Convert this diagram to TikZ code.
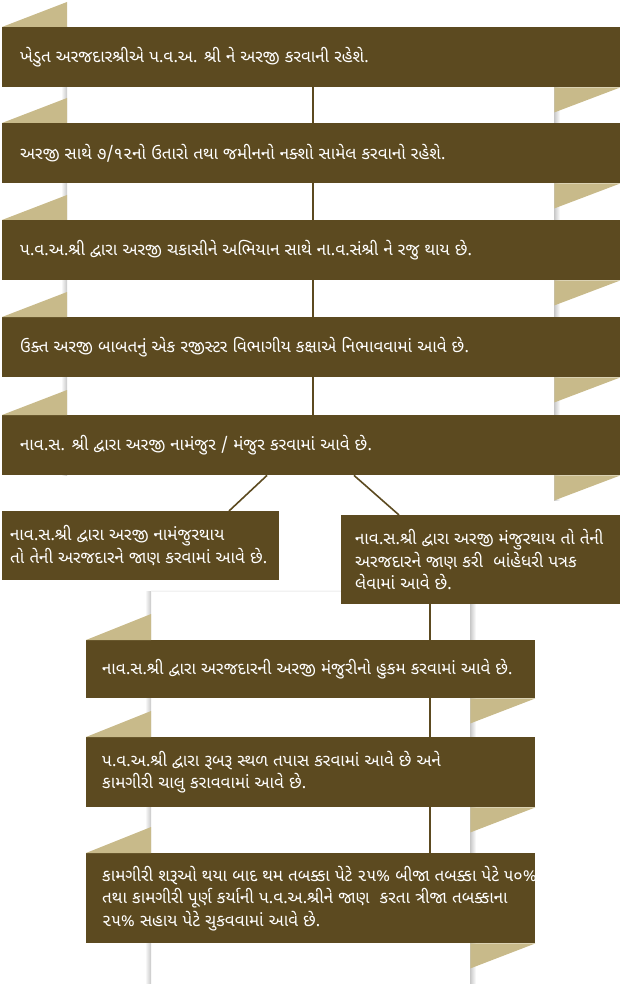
\documentclass[tikz,border=0pt]{standalone}
\usepackage{fontspec}
\newfontfamily\gujfont[Script=Gujarati]{Noto Sans Gujarati UI}
\usepackage{tikz}
\definecolor{ribbonbrown}{RGB}{92,74,32}
\definecolor{ribbontan}{RGB}{200,186,138}

\begin{document}
\begin{tikzpicture}[x=1pt, y=-1pt,
    box/.style={fill=ribbonbrown, anchor=north west, inner sep=0pt},
    txt/.style={text=white, font=\gujfont\fontsize{17}{22.5}\selectfont, align=left, anchor=west, inner sep=0pt},
    link/.style={draw=ribbonbrown, line width=1.6pt},
    fold/.style={fill=ribbontan}]
    \useasboundingbox (0,0) rectangle (620,984);
    % shadows along the edges of the two white strips
    \shade[left color=white, right color=black!22] (61,27) rectangle (67,475);
    \shade[left color=black!22, right color=white] (554,87) rectangle (560,500);
    \shade[left color=white, right color=black!22] (145,591) rectangle (151,984);
    \shade[left color=black!22, right color=white] (470,591) rectangle (476,984);
    \shade[top color=white, bottom color=black!5] (151,589) rectangle (470,591);
    % upper steps
    \node[box, minimum width=618pt, minimum height=60pt] (b1) at (2,27) {};
    \node[box, minimum width=618pt, minimum height=60pt] (b2) at (2,123) {};
    \node[box, minimum width=618pt, minimum height=60pt] (b3) at (2,220) {};
    \node[box, minimum width=618pt, minimum height=60pt] (b4) at (2,317) {};
    \node[box, minimum width=618pt, minimum height=60pt] (b5) at (2,415) {};
    % the two outcomes
    \node[box, minimum width=277pt, minimum height=69pt] (b6) at (2,511) {};
    \node[box, minimum width=279pt, minimum height=89pt] (b7) at (341,515) {};
    % lower steps
    \node[box, minimum width=449pt, minimum height=58pt] (b8) at (86,640) {};
    \node[box, minimum width=449pt, minimum height=70pt] (b9) at (86,737) {};
    \node[box, minimum width=449pt, minimum height=90pt] (b10) at (86,853) {};
    % folded corners
    \fill[fold] (b1.north west) -- ++(65,-25) -- ++(0,25) -- cycle;
    \fill[fold] (b2.north west) -- ++(65,-25) -- ++(0,25) -- cycle;
    \fill[fold] (b3.north west) -- ++(65,-25) -- ++(0,25) -- cycle;
    \fill[fold] (b4.north west) -- ++(65,-25) -- ++(0,25) -- cycle;
    \fill[fold] (b5.north west) -- ++(65,-25) -- ++(0,25) -- cycle;
    \fill[fold] (b1.south east) -- ++(-66,0) -- ++(0,25) -- cycle;
    \fill[fold] (b2.south east) -- ++(-66,0) -- ++(0,25) -- cycle;
    \fill[fold] (b3.south east) -- ++(-66,0) -- ++(0,25) -- cycle;
    \fill[fold] (b4.south east) -- ++(-66,0) -- ++(0,25) -- cycle;
    \fill[fold] (b5.south east) -- ++(-66,0) -- ++(0,25) -- cycle;
    \fill[fold] (b8.north west) -- ++(65,-26) -- ++(0,26) -- cycle;
    \fill[fold] (b9.north west) -- ++(65,-26) -- ++(0,26) -- cycle;
    \fill[fold] (b10.north west) -- ++(65,-26) -- ++(0,26) -- cycle;
    \fill[fold] (b8.south east) -- ++(-65,0) -- ++(0,25) -- cycle;
    \fill[fold] (b9.south east) -- ++(-65,0) -- ++(0,25) -- cycle;
    \fill[fold] (b10.south east) -- ++(-65,0) -- ++(0,25) -- cycle;
    % connectors
    \draw[link] ([xshift=2pt]b1.south) -- ([xshift=2pt]b2.north);
    \draw[link] ([xshift=2pt]b2.south) -- ([xshift=2pt]b3.north);
    \draw[link] ([xshift=2pt]b3.south) -- ([xshift=2pt]b4.north);
    \draw[link] ([xshift=2pt]b4.south) -- ([xshift=2pt]b5.north);
    \draw[link] ([xshift=265pt]b5.south west) -- ([xshift=227pt]b6.north west);
    \draw[link] ([xshift=352pt]b5.south west) -- ([xshift=58pt]b7.north west);
    \draw[link] ([xshift=89pt]b7.south west) -- ([xshift=344pt]b8.north west);
    \draw[link] ([xshift=344pt]b8.south west) -- ([xshift=344pt]b9.north west);
    \draw[link] ([xshift=344pt]b9.south west) -- ([xshift=344pt]b10.north west);
    % texts
    \node[txt] (t1) at ([xshift=18pt]b1.west) {ખેડુત અરજદારશ્રીએ પ.વ.અ. શ્રી ને અરજી કરવાની રહેશે.};
    \node[txt] (t2) at ([xshift=18pt]b2.west) {અરજી સાથે ૭/૧૨નો ઉતારો તથા જમીનનો નક્શો સામેલ કરવાનો રહેશે.};
    \node[txt] (t3) at ([xshift=18pt]b3.west) {પ.વ.અ.શ્રી દ્વારા અરજી ચકાસીને અભિયાન સાથે ના.વ.સંશ્રી ને રજુ થાય છે.};
    \node[txt] (t4) at ([xshift=18pt]b4.west) {ઉક્ત અરજી બાબતનું એક રજીસ્ટર વિભાગીય કક્ષાએ નિભાવવામાં આવે છે.};
    \node[txt] (t5) at ([xshift=18pt]b5.west) {નાવ.સ. શ્રી દ્વારા અરજી નામંજુર / મંજુર કરવામાં આવે છે.};
    \node[txt] (t6) at ([xshift=8pt]b6.west) {નાવ.સ.શ્રી દ્વારા અરજી નામંજુરથાય\\તો તેની અરજદારને જાણ કરવામાં આવે છે.};
    \node[txt] (t7) at ([xshift=14pt]b7.west) {નાવ.સ.શ્રી દ્વારા અરજી મંજુરથાય તો તેની\\અરજદારને જાણ કરી \ બાંહેધરી પત્રક\\લેવામાં આવે છે.};
    \node[txt] (t8) at ([xshift=16pt]b8.west) {નાવ.સ.શ્રી દ્વારા અરજદારની અરજી મંજુરીનો હુકમ કરવામાં આવે છે.};
    \node[txt] (t9) at ([xshift=16pt]b9.west) {પ.વ.અ.શ્રી દ્વારા રૂબરૂ સ્થળ તપાસ કરવામાં આવે છે અને\\કામગીરી ચાલુ કરાવવામાં આવે છે.};
    \node[txt] (t10) at ([xshift=16pt]b10.west) {કામગીરી શરૂઓ થયા બાદ થમ તબક્કા પેટે ૨૫\% બીજા તબક્કા પેટે ૫૦\%\\તથા કામગીરી પૂર્ણ કર્યાની પ.વ.અ.શ્રીને જાણ \ કરતા ત્રીજા તબક્કાના\\૨૫\% સહાય પેટે ચુકવવામાં આવે છે.};
\end{tikzpicture}
\end{document}
